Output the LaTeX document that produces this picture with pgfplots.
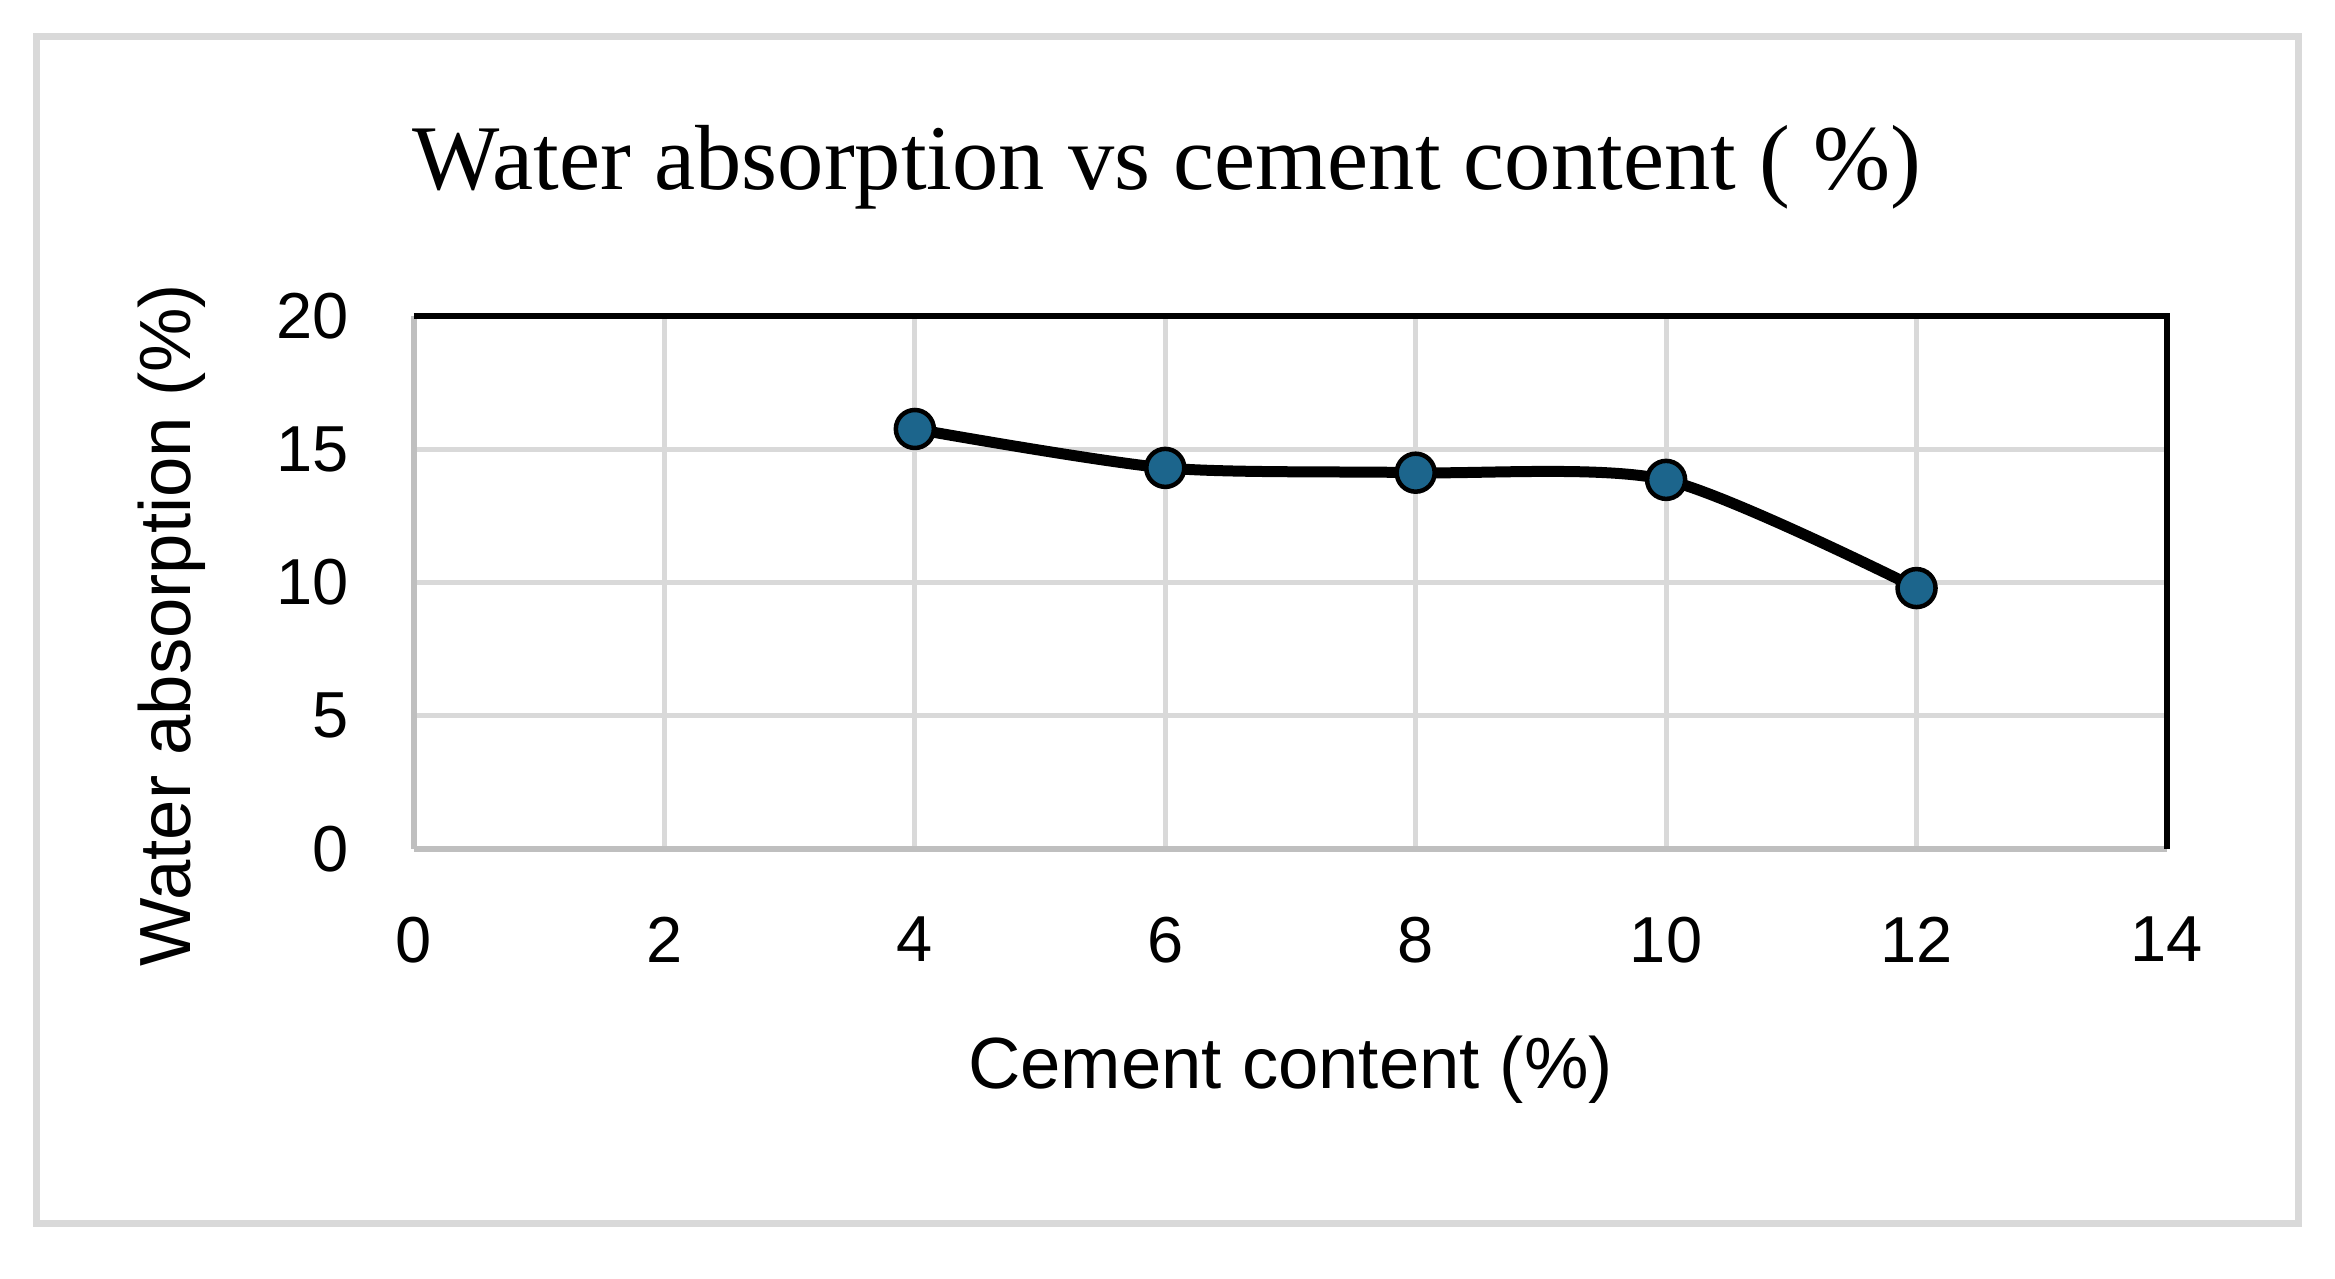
\documentclass[border=0pt]{standalone}
\usepackage{pgfplots}
\pgfplotsset{compat=1.18}
\usepackage{fontspec}
\setmainfont{Liberation Serif}
\newfontfamily\sansf{Liberation Sans}

\definecolor{markblue}{RGB}{28,101,140}
\definecolor{gridgray}{RGB}{217,217,217}
\definecolor{axisgray}{RGB}{191,191,191}

\begin{document}
\begin{tikzpicture}
% page = 2335 x 1279 px at 0.2pt/px, axis corner at px (414,849)
\path[use as bounding box] (-82.8pt,-86pt) rectangle (384.2pt,169.8pt);
\draw[gridgray, line width=1.4pt] (-75.4pt,-75pt) rectangle (376.8pt,162.4pt);

\node[font=\fontsize{18.5}{22}\selectfont] at (150.6pt,136.4pt)
  {Water absorption vs cement content ( \%)};

\begin{axis}[
  at={(0pt,0pt)}, anchor=south west,
  scale only axis,
  width=350.6pt, height=106.6pt,
  xmin=0, xmax=14, ymin=0, ymax=20,
  xtick={0,2,...,14}, ytick={0,5,...,20},
  axis x line*=bottom, axis y line*=left,
  axis line style={axisgray, line width=1.2pt, -},
  major tick length=0pt,
  grid=major,
  grid style={gridgray, line width=1pt},
  tick label style={font=\sansf\fontsize{13}{15}\selectfont},
  /pgf/number format/assume math mode=true,
  xticklabel style={yshift=-10pt},
  yticklabel style={xshift=-9.5pt},
  xlabel={Cement content (\%)},
  ylabel={Water absorption (\%)},
  label style={font=\sansf\fontsize{14.5}{17}\selectfont},
  xlabel style={at={(rel axis cs:0.5,-0.415)}, anchor=center},
  ylabel style={at={(rel axis cs:-0.138,0.42)}, anchor=center},
  clip=false,
]
\draw[black, line width=1.2pt] (rel axis cs:0,1) -- (rel axis cs:1,1) -- (rel axis cs:1,0);
\addplot[black, line width=2.2pt, smooth, tension=0.45,
  mark=*, mark size=3.8pt,
  mark options={fill=markblue, draw=black, line width=0.9pt}]
  coordinates {(4,15.76) (6,14.3) (8,14.12) (10,13.85) (12,9.79)};
\end{axis}
\end{tikzpicture}
\end{document}
